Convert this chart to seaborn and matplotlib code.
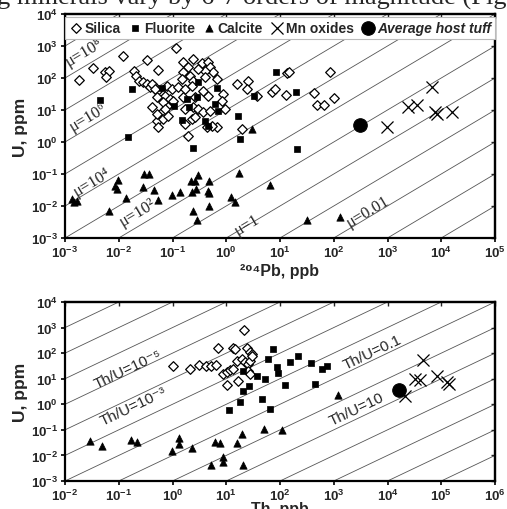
import numpy as np
import pandas as pd
import matplotlib
matplotlib.use("Agg")
import matplotlib.pyplot as plt
import matplotlib.ticker as mticker
import seaborn as sns

# ---- top panel: U (ppm) vs 204Pb (ppb) ----
silica_pb_top = [1.8e-3, 3.3e-3, 5.5e-3, 6.6e-3, 5.8e-3, 0.012, 0.034, 0.116, 0.054, 0.019, 0.021, 0.024,
                 0.028, 0.042, 0.051, 0.054, 0.034, 0.038, 0.045, 0.051, 0.072, 0.089, 0.066, 0.079,
                 0.157, 0.24, 0.355, 0.457, 0.50, 0.566, 0.40, 0.30, 0.195, 0.157, 0.21, 0.15, 0.24, 0.40, 0.675,
                 0.042, 0.047, 0.079, 0.098, 0.126, 0.17, 0.23, 0.457, 0.37,
                 0.051, 0.066, 0.10, 0.157, 0.26, 0.87, 0.83,
                 0.072, 0.051, 0.066, 0.083, 0.17, 0.24, 0.30, 0.37, 0.50, 0.95,
                 0.17, 0.23, 0.26, 0.675, 0.54, 0.195, 1.95,
                 1.58, 2.54, 2.43, 7.1, 8.1, 3.7, 13.5, 14.7, 85, 13, 43, 49, 66, 100, 0.44]
silica_u_top = [87, 205, 155, 165, 107, 490, 365, 870, 178, 165, 115, 81,
                75, 12.3, 4.5, 2.95, 65, 52, 56, 39, 27, 22, 9.3, 13.3,
                316, 390, 295, 316, 219, 155, 165, 191, 219, 155, 115, 93, 81, 107, 93,
                65, 45, 56, 45, 52, 45, 56, 27, 39,
                26, 17.8, 19, 26, 26, 32, 19,
                10.7, 7.5, 5.2, 6.5, 10.7, 12.3, 10.7, 8.7, 9.3, 10.7,
                3.6, 5.2, 6.0, 2.95, 3.2, 1.55, 2.55,
                65, 81, 45, 36, 45, 27, 145, 155, 155, 29, 34, 14.4, 14.4, 24, 2.95]

fluorite_pb_top = [0.018, 4.5e-3, 0.015, 0.064, 0.30, 0.675, 8.4, 0.186, 0.286, 0.107, 0.20, 0.62,
                   0.70, 0.40, 0.15, 1.66, 3.3, 1.8, 0.24, 0.457, 20, 21]
fluorite_u_top = [45, 20.5, 1.43, 49, 75, 49, 155, 22, 26, 13.3, 12.3, 15.4,
                  9.3, 4.5, 4.9, 6.5, 27, 1.24, 0.65, 3.2, 36, 0.60]

calcite_pb_top = [1.35e-3, 1.5e-3, 1.66e-3, 6.6e-3, 8.5e-3, 9.3e-3, 9.7e-3, 0.0137,
                  0.030, 0.036, 0.028, 0.045, 0.054, 0.098, 0.138,
                  0.22, 0.26, 0.23, 0.27, 0.30, 0.24, 0.286,
                  0.48, 0.457, 0.47, 0.48, 1.73, 1.22, 1.46, 6.5, 32, 130, 3.0]
calcite_u_top = [0.0166, 0.0133, 0.0144, 6.9e-3, 0.042, 0.034, 0.065, 0.0178,
                 0.10, 0.10, 0.039, 0.032, 0.0154, 0.022, 0.0275,
                 0.060, 0.060, 0.0275, 0.034, 0.093, 6.9e-3, 3.6e-3,
                 0.060, 0.0295, 0.026, 0.010, 0.107, 0.019, 0.0133, 0.046, 3.6e-3, 4.6e-3, 2.55]

mn_pb_top = [6700, 2400, 3540, 7650, 8300, 15800, 980]
mn_u_top = [52, 12.3, 14.4, 8.7, 7.5, 8.7, 2.95]

host_pb_top = [308]
host_u_top = [3.4]

# ---- bottom panel: U (ppm) vs Th (ppb) ----
silica_th = [1.02, 2.1, 3.1, 4.2, 5.2, 6.5, 7.0, 8.7, 10.3, 11.7, 13.4, 10.3, 16.6, 13.4,
             14.6, 21.4, 24.3, 27.7, 30, 15.8, 19.6, 22.3, 25.4, 27.7, 25.4, 27.7, 30]
silica_u_bot = [32, 24, 35, 32, 32, 35, 158, 15.5, 18.6, 22, 24, 5.8, 8.1, 158,
                145, 810, 158, 112, 93, 50, 59, 46, 38, 50, 20, 15.5, 78]

fluorite_th = [20.5, 37, 26.5, 20.5, 18, 11.2, 74, 60, 53, 88, 92, 124, 46, 65, 154, 216, 378, 605, 750, 450]
fluorite_u_bot = [20, 13, 5.2, 3.3, 1.24, 0.60, 145, 59, 9.8, 29, 17, 5.8, 1.63, 0.66, 46, 78, 42, 24, 32, 6.3]

calcite_th = [0.029, 0.049, 0.17, 0.22, 0.98, 1.32, 1.32, 2.3, 6.2, 7.6, 8.7, 8.7, 5.2, 16, 19.6, 20.5,
              1200, 50, 109]
calcite_u_bot = [0.037, 0.024, 0.041, 0.034, 0.015, 0.049, 0.028, 0.020, 0.034, 0.031, 8.9e-3, 5.6e-3,
                 4.3e-3, 0.031, 0.069, 4.3e-3, 2.3, 0.11, 0.10]

mn_th = [46000, 32500, 40000, 83000, 128000, 140000, 21000]
mn_u_bot = [54, 9.8, 8.9, 13, 7.5, 6.3, 2.1]

host_th = [16400]
host_u_bot = [3.6]

minerals = ["Silica", "Fluorite", "Calcite", "Mn oxides", "Average host tuff"]

top_labels = [("μ=10⁸", 2.3e-3, 650), ("μ=10⁶", 2.7e-3, 6), ("μ=10⁴", 3.2e-3, 0.056),
              ("μ=10²", 0.022, 6.5e-3), ("μ=1", 2.4, 2.7e-3), ("μ=0.01", 436, 6.9e-3)]
bottom_labels = [("Th/U=10⁻⁵", 0.148, 24), ("Th/U=10⁻³", 0.184, 0.87),
                 ("Th/U=0.1", 5150, 112), ("Th/U=10", 2700, 0.66)]


def make_frame(pairs):
    parts = []
    for name, (xs, ys) in zip(minerals, pairs):
        parts.append(pd.DataFrame({"x": xs, "U": ys, "mineral": name}))
    return pd.concat(parts, ignore_index=True)


top_df = make_frame([(silica_pb_top, silica_u_top), (fluorite_pb_top, fluorite_u_top),
                     (calcite_pb_top, calcite_u_top), (mn_pb_top, mn_u_top), (host_pb_top, host_u_top)])
bot_df = make_frame([(silica_th, silica_u_bot), (fluorite_th, fluorite_u_bot),
                     (calcite_th, calcite_u_bot), (mn_th, mn_u_bot), (host_th, host_u_bot)])

styles = {
    "Silica": dict(marker="D", s=24, color="white", edgecolor="black", linewidth=0.9),
    "Fluorite": dict(marker="s", s=19, color="black", edgecolor="black", linewidth=0.5),
    "Calcite": dict(marker="^", s=28, color="black", edgecolor="black", linewidth=0.5),
    "Mn oxides": dict(marker="x", s=75, color="black", linewidth=0.9),
    "Average host tuff": dict(marker="o", s=95, color="black", edgecolor="black"),
}

sns.set_style("ticks")
plt.rcParams["font.family"] = ["Liberation Sans", "DejaVu Sans"]
plt.rcParams["mathtext.fontset"] = "custom"
plt.rcParams["mathtext.rm"] = "Liberation Sans"
plt.rcParams["mathtext.bf"] = "Liberation Sans:bold"

fig = plt.figure(figsize=(5.07, 5.10), dpi=100)
ax_top = fig.add_axes([65 / 507, 1 - 239 / 510, 430 / 507, 224 / 510])
ax_bot = fig.add_axes([65 / 507, 1 - 482 / 510, 430 / 507, 179 / 510])

fmt = mticker.FuncFormatter(lambda v, _: r"$\mathbf{10^{%d}}$" % round(np.log10(v)))


def draw_panel(ax, df, xlim, xlabel, labels, label_font, label_size, xpad):
    ax.set_xscale("log")
    ax.set_yscale("log")
    ax.set_xlim(*xlim)
    ax.set_ylim(1e-3, 1e4)

    # iso-ratio reference lines, one per decade
    for k in range(-10, 10):
        ax.axline((1, 10.0 ** k), (10, 10.0 ** (k + 1)), color="#555555", lw=0.6, zorder=0)

    handles = []
    for name in minerals:
        sub = df[df["mineral"] == name]
        sns.scatterplot(data=sub, x="x", y="U", ax=ax, label=name, zorder=3, legend=False,
                        **styles[name])
        handles.append(ax.collections[-1])

    xt = [10.0 ** e for e in range(int(np.log10(xlim[0])), int(np.log10(xlim[1])) + 1)]
    yt = [10.0 ** e for e in range(-3, 5)]
    ax.set_xticks(xt)
    ax.set_yticks(yt)
    ax.xaxis.set_major_formatter(fmt)
    ax.yaxis.set_major_formatter(fmt)
    ax.xaxis.set_minor_locator(mticker.NullLocator())
    ax.yaxis.set_minor_locator(mticker.NullLocator())
    ax.tick_params(direction="out", length=3, width=1.2, labelsize=9.5, pad=2, color="black")

    # inward ticks on top and right edges
    sec_x = ax.secondary_xaxis("top")
    sec_x.set_xticks(xt)
    sec_x.xaxis.set_minor_locator(mticker.NullLocator())
    sec_x.tick_params(direction="in", length=3, width=1.0, labeltop=False)
    sec_y = ax.secondary_yaxis("right")
    sec_y.set_yticks(yt)
    sec_y.yaxis.set_minor_locator(mticker.NullLocator())
    sec_y.tick_params(direction="in", length=3, width=1.0, labelright=False)
    for s in list(sec_x.spines.values()) + list(sec_y.spines.values()):
        s.set_linewidth(1.6)

    for s in ax.spines.values():
        s.set_linewidth(1.6)
        s.set_color("black")

    ax.set_xlabel(xlabel, fontsize=11.5, fontweight="bold", labelpad=xpad)
    ax.set_ylabel("U, ppm", fontsize=12.5, fontweight="bold", labelpad=2)

    p1 = ax.transData.transform((1, 1))
    p2 = ax.transData.transform((10, 10))
    angle = np.degrees(np.arctan2(p2[1] - p1[1], p2[0] - p1[0]))
    for text, x, y in labels:
        ax.text(x, y, text, rotation=angle, rotation_mode="anchor", ha="center", va="center",
                fontsize=label_size, family=label_font, zorder=4)
    return handles


handles = draw_panel(ax_top, top_df, (1e-3, 1e5), "²⁰⁴Pb, ppb", top_labels,
                     ["Liberation Serif", "DejaVu Serif"], 12, 2)
draw_panel(ax_bot, bot_df, (1e-2, 1e6), "Th, ppb", bottom_labels,
           ["Liberation Sans", "DejaVu Sans"], 11, -1.5)

leg = ax_top.legend(handles, minerals, loc="upper center", bbox_to_anchor=(0.5, 0.995), ncol=5,
                    frameon=True, fancybox=False, framealpha=1, edgecolor="#bbbbbb",
                    borderpad=0.3, handletextpad=0.15, columnspacing=0.5, handlelength=1.0,
                    borderaxespad=0.1, prop={"weight": "bold", "size": 10})
leg.get_frame().set_linewidth(0.8)
leg.get_texts()[-1].set_style("italic")

# partial line of the page text above the figure
fig.text(1.0, 1 - 5 / 510, "ng minerals vary by 6-7 orders of magnitude (Fig",
         ha="right", va="baseline", fontsize=19, family=["Liberation Serif", "DejaVu Serif"])

fig.savefig("out.png", dpi=100)
